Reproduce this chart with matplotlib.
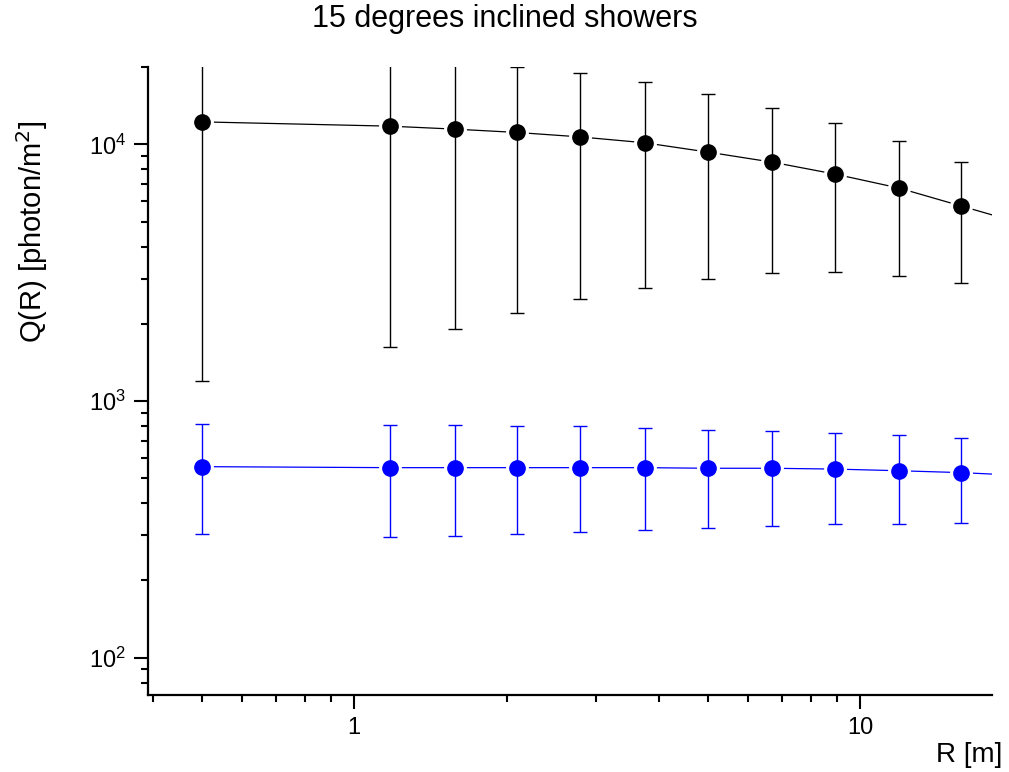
import matplotlib
matplotlib.use("Agg")
import matplotlib.pyplot as plt
from matplotlib.ticker import LogLocator, NullFormatter
import numpy as np

plt.rcParams['font.family'] = ['Liberation Sans', 'DejaVu Sans']

# distance from core [m]
R = [0.5, 1.176, 1.58, 2.095, 2.79, 3.75, 5.01, 6.70, 8.93, 11.94, 15.87]
R_tail = 21.2

# black series
q_black = [12240, 11780, 11470, 11134, 10700, 10150, 9330, 8530, 7660, 6760, 5750]
black_lo = [1196, 1628, 1913, 2202, 2496, 2748, 2987, 3157, 3170, 3077, 2892]
black_hi = [30000, 30000, 30000, 20050, 18910, 17440, 15740, 13890, 12140, 10320, 8556]
black_tail = 4880

# blue series
q_blue = [555, 550, 550, 550, 550, 550, 547, 547, 543, 535, 526]
blue_lo = [303, 296, 297, 304, 310, 314, 320, 326, 332, 333, 336]
blue_hi = [811, 804, 804, 797, 796, 787, 771, 764, 750, 735, 716]
blue_tail = 512

fig = plt.figure(figsize=(10.09, 7.72), dpi=100)
ax = fig.add_axes([0.1467, 0.0997, 0.836, 0.8133])


def draw_series(q, lo, hi, tail, color):
    q = np.array(q)
    yerr = [q - np.array(lo), np.array(hi) - q]
    ax.plot(R + [R_tail], list(q) + [tail], color=color, lw=0.9, zorder=2)
    # white halo so the connecting line stops short of each marker
    ax.plot(R, q, 'o', ms=11, mfc='white', mec='white', mew=5.5, zorder=3)
    ax.errorbar(R, q, yerr=yerr, fmt='none', ecolor=color, elinewidth=1.0,
                capsize=5, capthick=1.0, zorder=4)
    ax.plot(R, q, 'o', ms=11, color=color, mec=color, zorder=5)


draw_series(q_black, black_lo, black_hi, black_tail, 'black')
draw_series(q_blue, blue_lo, blue_hi, blue_tail, '#0000ff')

ax.set_xscale('log')
ax.set_yscale('log')
ax.set_xlim(0.391, 18.2)
ax.set_ylim(71.5, 20000)

for s in ['top', 'right']:
    ax.spines[s].set_visible(False)
for s in ['left', 'bottom']:
    ax.spines[s].set_linewidth(1.6)

ax.xaxis.set_minor_locator(LogLocator(base=10, subs=np.arange(2, 10)))
ax.xaxis.set_minor_formatter(NullFormatter())
ax.yaxis.set_minor_locator(LogLocator(base=10, subs=np.arange(2, 10)))
ax.yaxis.set_minor_formatter(NullFormatter())
ax.set_xticks([1, 10])
ax.set_xticklabels(['1', '10'])

ax.tick_params(which='major', direction='out', length=10, width=1.5, labelsize=17, pad=6)
ax.tick_params(which='minor', direction='out', length=4.8, width=1.5)

fig.text(0.5, 0.975, '15 degrees inclined showers', ha='center', va='center', fontsize=22)
fig.text(0.993, 0.022, 'R [m]', ha='right', va='center', fontsize=20)
fig.text(0.032, 0.70, 'Q(R) [photon/m$^2$]', ha='center', va='center',
         rotation=90, fontsize=21)

fig.savefig('out.png', dpi=100)
